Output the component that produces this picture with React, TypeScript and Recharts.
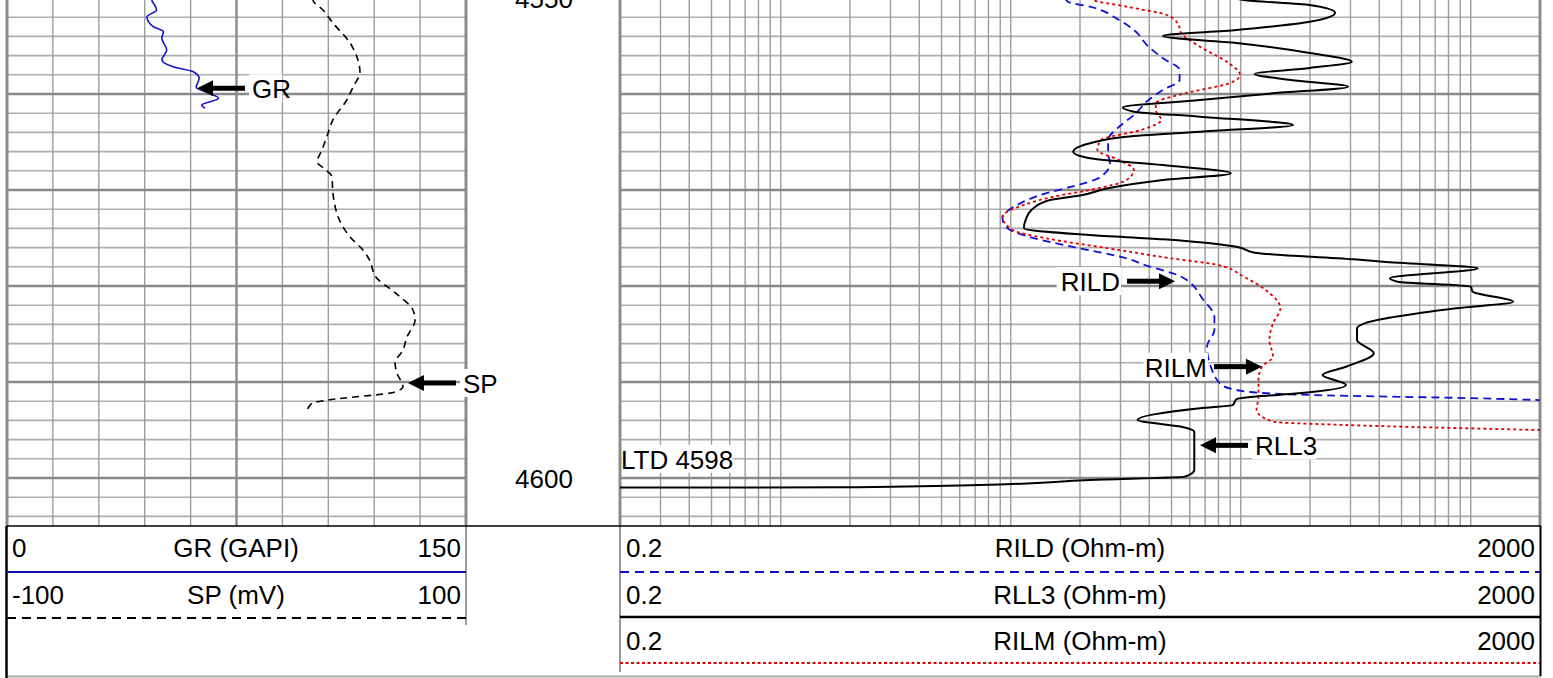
import React from 'react';
import { LineChart, Line, XAxis, YAxis, ReferenceLine, ReferenceDot } from 'recharts';

const FONT = '"Liberation Sans", Arial, Helvetica, sans-serif';
const FS = 26;

// ---- depth axis ----
const depthDomain = [4550, 4605];
const depthLabels = [4550, 4600];
const depthMinor = [4552, 4554, 4556, 4558, 4562, 4564, 4566, 4568, 4572, 4574, 4576, 4578, 4582, 4584, 4586, 4588, 4592, 4594, 4596, 4598, 4602, 4604];
const depthMajor = [4560, 4570, 4580, 4590, 4600];

// ---- left track scales ----
const grDomain = [0, 150];
const spDomain = [-100, 100];
const grMinor = [15, 30, 45, 60, 90, 105, 120, 135];
const grMajor = [75];
const grEdges = [0, 150];

// ---- right track scales ----
const resDomain = [0.2, 2000];
const resMinor = [0.3, 0.4, 0.5, 0.6, 0.7, 0.8, 0.9, 1, 2, 3, 4, 5, 6, 7, 8, 9, 10, 20, 30, 40, 50, 60, 70, 80, 90, 100, 200, 300, 400, 500, 600, 700, 800, 900, 1000];
const resEdges = [0.2, 2000];

// ---- series ----
const grDepth = [4548.9, 4550.21, 4551.25, 4551.95, 4552.99, 4553.51, 4554.2, 4555.42, 4556.46, 4557.16, 4557.68, 4558.36, 4559.3, 4559.86, 4560.45, 4561.15, 4561.5];
const grValue = [46.7, 47.3, 48.9, 45.7, 47.8, 51.1, 50.6, 52.2, 50.6, 54.3, 60.9, 62.8, 61.8, 65.8, 69.1, 63.6, 64.7];

const spDepth = [4548.75, 4550.21, 4551.25, 4552.6, 4554.69, 4556.46, 4557.7, 4559.27, 4560.6, 4562.7, 4564.06, 4565.8, 4567.1, 4567.6, 4568.65, 4570.3, 4573.85, 4574.9, 4576.25, 4577.3, 4579.03, 4580.7, 4582.5, 4583.54, 4585.3, 4586.67, 4588.02, 4589.06, 4590.5, 4591.04, 4591.88, 4592.2, 4593.23];
const spValue = [33.3, 33.3, 37.7, 42.0, 49.5, 52.9, 53.8, 50.8, 48.1, 42.0, 39.9, 37.3, 35.1, 37.3, 41.6, 42.0, 46.4, 49.5, 55.1, 58.0, 60.6, 69.1, 76.9, 77.8, 74.3, 72.5, 69.1, 69.9, 72.5, 69.1, 39.9, 32.9, 30.3];

const rildDepth = [4548.75, 4550.39, 4550.9, 4552.3, 4553.33, 4555.07, 4556.28, 4557.5, 4558.54, 4559.58, 4560.63, 4562.19, 4563.41, 4564.79, 4566.18, 4567.22, 4568.61, 4569.66, 4570.34, 4571.39, 4572.95, 4573.99, 4575.03, 4575.9, 4577.11, 4577.81, 4579.03, 4581.46, 4583.2, 4584.58, 4586.32, 4588.4, 4590.31, 4591.01, 4591.35, 4591.7, 4591.88];
const rildValue = [16.4, 17.7, 22.1, 29.6, 34.3, 39.7, 45.9, 54.2, 54.2, 45.9, 39.7, 34.3, 29.6, 26.5, 26.5, 27.0, 24.7, 18.4, 14.2, 11.0, 9.2, 9.7, 12.7, 18.4, 31.8, 38.3, 55.2, 68.8, 76.8, 76.8, 71.3, 74.1, 82.7, 106.9, 199.4, 1074, 2000];

const rilmDepth = [4548.75, 4550.21, 4550.9, 4551.77, 4552.64, 4553.68, 4555.07, 4556.8, 4558.02, 4558.89, 4559.93, 4560.97, 4561.67, 4562.71, 4563.75, 4564.79, 4565.83, 4566.88, 4567.92, 4568.96, 4570.0, 4570.7, 4571.56, 4572.78, 4574.17, 4575.03, 4576.07, 4577.11, 4577.81, 4579.03, 4580.42, 4582.32, 4583.89, 4585.63, 4587.36, 4588.4, 4589.79, 4591.53, 4592.92, 4594.14, 4594.48, 4595.0];
const rilmValue = [21.0, 22.9, 31.8, 47.7, 53.2, 55.2, 66.4, 88.9, 99.3, 88.9, 57.2, 42.7, 42.7, 45.1, 36.8, 24.7, 23.8, 29.6, 34.3, 31.8, 22.1, 15.3, 11.4, 9.2, 10.2, 14.2, 26.5, 49.5, 79.6, 103, 128.3, 148.7, 138.1, 133.2, 138.1, 123.7, 119.4, 119.4, 117.1, 138.1, 286.8, 2000];

const rll3Depth = [4549.27, 4550.21, 4550.73, 4551.53, 4552.47, 4553.33, 4553.96, 4554.69, 4555.73, 4556.64, 4557.29, 4557.92, 4558.54, 4559.24, 4559.93, 4560.63, 4561.39, 4561.84, 4562.36, 4563.23, 4563.93, 4564.45, 4565.14, 4566.01, 4566.7, 4567.4, 4568.26, 4568.96, 4569.82, 4570.52, 4571.04, 4572.08, 4573.13, 4573.99, 4574.69, 4575.14, 4575.91, 4576.53, 4577.22, 4577.47, 4578.16, 4579.2, 4579.55, 4580.07, 4580.59, 4581.64, 4582.32, 4583.89, 4584.41, 4585.63, 4587.01, 4588.41, 4589.27, 4590.31, 4591.18, 4591.53, 4591.8, 4592.4, 4592.74, 4593.96, 4594.66, 4595.18, 4599.17, 4599.86, 4600.21, 4600.73, 4600.97, 4600.99];
const rll3Value = [76.5, 103.3, 199.4, 257, 199.4, 95.7, 45.9, 95.7, 199.4, 304, 199.4, 115, 165.3, 292.6, 138.1, 66.4, 30.7, 34.3, 66.4, 168.8, 66.4, 31.8, 22.1, 18.7, 22.1, 45.9, 90.6, 45.9, 26.5, 20.5, 14.8, 12.3, 11.6, 11.4, 22.1, 45.9, 95.6, 115, 309.6, 415.5, 1074, 445.6, 480.8, 1000.6, 1019, 1527, 862.6, 345.5, 320.2, 320.2, 378.7, 286.8, 226.7, 286.8, 178.6, 115, 95.7, 92.3, 66.4, 35.6, 55.2, 62.8, 62.8, 57.2, 22.1, 7.3, 1.81, 0.2];

// ---- annotations ----
const grNote = { label: 'GR', value: 62.1, depth: 4559.4 };
const spNote = { label: 'SP', value: 74.7, depth: 4590.1 };
const rildNote = { label: 'RILD', value: 51.8, depth: 4579.5 };
const rilmNote = { label: 'RILM', value: 123.6, depth: 4588.4 };
const rll3Note = { label: 'RLL3', value: 66.5, depth: 4596.6 };
const ltdNote = { label: 'LTD 4598', value: 0.2, depth: 4598 };

// ---- header texts ----
const leftHeader = [
  ['0', 'GR (GAPI)', '150'],
  ['-100', 'SP (mV)', '100'],
];
const rightHeader = [
  ['0.2', 'RILD (Ohm-m)', '2000'],
  ['0.2', 'RLL3 (Ohm-m)', '2000'],
  ['0.2', 'RILM (Ohm-m)', '2000'],
];

const zip = (d: number[], v: number[]) => {
  const n = Math.min(d.length, v.length);
  const out: { depth: number; value: number }[] = [];
  for (let i = 0; i < n; i++) out.push({ depth: d[i], value: v[i] });
  return out;
};

const grData = zip(grDepth, grValue);
const spData = zip(spDepth, spValue);
const rildData = zip(rildDepth, rildValue);
const rilmData = zip(rilmDepth, rilmValue);
const rll3Data = zip(rll3Depth, rll3Value);

const textW = (s: string) => s.length * FS * 0.6;

const arrowShape = (label: string, dir: 'left' | 'right') => (p: any) => {
  const cx = p.cx;
  const cy = p.cy;
  if (cx == null || cy == null) return <g />;
  const w = textW(label) - 4;
  if (dir === 'left') {
    return (
      <g>
        <rect x={cx + 52} y={cy - 14} width={w + 6} height={28} fill="#fff" />
        <polygon points={`${cx},${cy} ${cx + 16},${cy - 8} ${cx + 16},${cy + 8}`} fill="#000" />
        <rect x={cx + 14} y={cy - 2.5} width={34} height={5} fill="#000" />
        <text x={cx + 55} y={cy + 1} fontSize={FS} fontFamily={FONT} dominantBaseline="central" fill="#000">{label}</text>
      </g>
    );
  }
  return (
    <g>
      <rect x={cx - 56 - w - 4} y={cy - 14} width={w + 6} height={28} fill="#fff" />
      <polygon points={`${cx},${cy} ${cx - 16},${cy - 8} ${cx - 16},${cy + 8}`} fill="#000" />
      <rect x={cx - 48} y={cy - 2.5} width={34} height={5} fill="#000" />
      <text x={cx - 55} y={cy + 1} fontSize={FS} fontFamily={FONT} dominantBaseline="central" textAnchor="end" fill="#000">{label}</text>
    </g>
  );
};

const ltdShape = (label: string) => (p: any) => {
  const cx = p.cx;
  const cy = p.cy;
  if (cx == null || cy == null) return <g />;
  const w = textW(label) - 14;
  return (
    <g>
      <rect x={cx + 2} y={cy - 14} width={w} height={28} fill="#fff" />
      <text x={cx + 1} y={cy + 1} fontSize={FS} fontFamily={FONT} dominantBaseline="central" fill="#000">{label}</text>
    </g>
  );
};

const MINOR_H = { stroke: '#adadad', strokeWidth: 1.6 };
const MAJOR_H = { stroke: '#8a8a8a', strokeWidth: 2.4 };
const MINOR_V = { stroke: '#9c9c9c', strokeWidth: 1.4 };
const EDGE = { stroke: '#8c8c8c', strokeWidth: 3 };

const CH = 556;
const MARGIN_TOP = 28;

const LeftTrack = () => (
  <LineChart width={526} height={CH} layout="vertical" margin={{ top: MARGIN_TOP, right: 60, bottom: 0, left: 7 }}>
    <XAxis xAxisId="gr" type="number" domain={grDomain} hide allowDataOverflow />
    <XAxis xAxisId="sp" type="number" domain={spDomain} hide allowDataOverflow />
    <YAxis yAxisId="d" type="number" dataKey="depth" domain={depthDomain} hide width={0} allowDataOverflow />
    {depthMinor.map((d) => (
      <ReferenceLine key={`hm${d}`} xAxisId="gr" yAxisId="d" y={d} {...MINOR_H} />
    ))}
    {grMinor.map((v) => (
      <ReferenceLine key={`vm${v}`} xAxisId="gr" yAxisId="d" x={v} {...MINOR_V} />
    ))}
    {depthMajor.map((d) => (
      <ReferenceLine key={`hM${d}`} xAxisId="gr" yAxisId="d" y={d} {...MAJOR_H} />
    ))}
    {grMajor.map((v) => (
      <ReferenceLine key={`vM${v}`} xAxisId="gr" yAxisId="d" x={v} {...MAJOR_H} />
    ))}
    {grEdges.map((v) => (
      <ReferenceLine key={`ve${v}`} xAxisId="gr" yAxisId="d" x={v} {...EDGE} />
    ))}
    <Line xAxisId="gr" yAxisId="d" data={grData} dataKey="value" type="monotone" stroke="#1414cc" strokeWidth={1.6} dot={false} isAnimationActive={false} />
    <Line xAxisId="sp" yAxisId="d" data={spData} dataKey="value" type="monotone" stroke="#000" strokeWidth={1.6} strokeDasharray="7 5" dot={false} isAnimationActive={false} />
    <ReferenceDot xAxisId="gr" yAxisId="d" x={grNote.value} y={grNote.depth} ifOverflow="visible" shape={arrowShape(grNote.label, 'left')} />
    <ReferenceDot xAxisId="sp" yAxisId="d" x={spNote.value} y={spNote.depth} ifOverflow="visible" shape={arrowShape(spNote.label, 'left')} />
  </LineChart>
);

const DepthTick = (p: any) => (
  <text x={78} y={p.y + 1} textAnchor="middle" dominantBaseline="central" fontSize={FS} fontFamily={FONT} fill="#000">
    {p.payload.value}
  </text>
);

const RightTrack = () => (
  <LineChart width={1084} height={CH} layout="vertical" margin={{ top: MARGIN_TOP, right: 10, bottom: 0, left: 0 }}>
    <XAxis xAxisId="r" type="number" scale="log" domain={resDomain} hide allowDataOverflow />
    <YAxis
      yAxisId="d"
      type="number"
      dataKey="depth"
      domain={depthDomain}
      allowDataOverflow
      width={154}
      ticks={depthLabels}
      interval={0}
      axisLine={false}
      tickLine={false}
      tick={DepthTick}
    />
    {depthMinor.map((d) => (
      <ReferenceLine key={`hm${d}`} xAxisId="r" yAxisId="d" y={d} {...MINOR_H} />
    ))}
    {resMinor.map((v) => (
      <ReferenceLine key={`vm${v}`} xAxisId="r" yAxisId="d" x={v} {...MINOR_V} />
    ))}
    {depthMajor.map((d) => (
      <ReferenceLine key={`hM${d}`} xAxisId="r" yAxisId="d" y={d} {...MAJOR_H} />
    ))}
    {resEdges.map((v) => (
      <ReferenceLine key={`ve${v}`} xAxisId="r" yAxisId="d" x={v} {...EDGE} />
    ))}
    <Line xAxisId="r" yAxisId="d" data={rildData} dataKey="value" type="monotone" stroke="#1010d8" strokeWidth={1.8} strokeDasharray="8 5" dot={false} isAnimationActive={false} />
    <Line xAxisId="r" yAxisId="d" data={rilmData} dataKey="value" type="monotone" stroke="#e00000" strokeWidth={1.8} strokeDasharray="3 3" dot={false} isAnimationActive={false} />
    <Line xAxisId="r" yAxisId="d" data={rll3Data} dataKey="value" type="monotone" stroke="#000" strokeWidth={2} dot={false} isAnimationActive={false} />
    <ReferenceDot xAxisId="r" yAxisId="d" x={rildNote.value} y={rildNote.depth} ifOverflow="visible" shape={arrowShape(rildNote.label, 'right')} />
    <ReferenceDot xAxisId="r" yAxisId="d" x={rilmNote.value} y={rilmNote.depth} ifOverflow="visible" shape={arrowShape(rilmNote.label, 'right')} />
    <ReferenceDot xAxisId="r" yAxisId="d" x={rll3Note.value} y={rll3Note.depth} ifOverflow="visible" shape={arrowShape(rll3Note.label, 'left')} />
    <ReferenceDot xAxisId="r" yAxisId="d" x={ltdNote.value} y={ltdNote.depth} ifOverflow="visible" shape={ltdShape(ltdNote.label)} />
  </LineChart>
);

const Header = () => {
  const lRows = [548, 595];
  const rRows = [548, 595, 641];
  const txt = { fontSize: FS, fontFamily: FONT, fill: '#000', dominantBaseline: 'central' as const };
  return (
    <svg width={1553} height={678} style={{ position: 'absolute', left: 0, top: 0, pointerEvents: 'none' }}>
      <line x1={466} y1={526} x2={466} y2={625} stroke="#777" strokeWidth={1.5} />
      <line x1={620} y1={526} x2={620} y2={672} stroke="#777" strokeWidth={1.5} />
      <line x1={7} y1={526} x2={1541} y2={526} stroke="#000" strokeWidth={1.5} />
      <line x1={6} y1={676.5} x2={1541} y2={676.5} stroke="#aaa" strokeWidth={2} />
      <line x1={6.5} y1={526} x2={6.5} y2={678} stroke="#000" strokeWidth={2.5} />
      <line x1={1540.5} y1={526} x2={1540.5} y2={676} stroke="#000" strokeWidth={2} />
      <line x1={7} y1={572} x2={466} y2={572} stroke="#1414b0" strokeWidth={2} />
      <line x1={7} y1={618} x2={466} y2={618} stroke="#000" strokeWidth={2} strokeDasharray="9 6" />
      <line x1={620} y1={572} x2={1540} y2={572} stroke="#1010c8" strokeWidth={2} strokeDasharray="9 6" />
      <line x1={620} y1={617} x2={1540} y2={617} stroke="#000" strokeWidth={2.5} />
      <line x1={620} y1={663} x2={1540} y2={663} stroke="#e00000" strokeWidth={2} strokeDasharray="3 2.5" />
      {leftHeader.map((r, i) => (
        <g key={`l${i}`}>
          <text x={12} y={lRows[i]} {...txt}>{r[0]}</text>
          <text x={236} y={lRows[i]} textAnchor="middle" {...txt}>{r[1]}</text>
          <text x={461} y={lRows[i]} textAnchor="end" {...txt}>{r[2]}</text>
        </g>
      ))}
      {rightHeader.map((r, i) => (
        <g key={`r${i}`}>
          <text x={626} y={rRows[i]} {...txt}>{r[0]}</text>
          <text x={1080} y={rRows[i]} textAnchor="middle" {...txt}>{r[1]}</text>
          <text x={1535} y={rRows[i]} textAnchor="end" {...txt}>{r[2]}</text>
        </g>
      ))}
    </svg>
  );
};

export default function App() {
  return (
    <div style={{ position: 'absolute', left: 0, top: 0, width: 1553, height: 678, overflow: 'hidden', background: '#fff' }}>
      <div style={{ position: 'absolute', left: 0, top: -30 }}>
        <LeftTrack />
      </div>
      <div style={{ position: 'absolute', left: 466, top: -30 }}>
        <RightTrack />
      </div>
      <Header />
    </div>
  );
}
